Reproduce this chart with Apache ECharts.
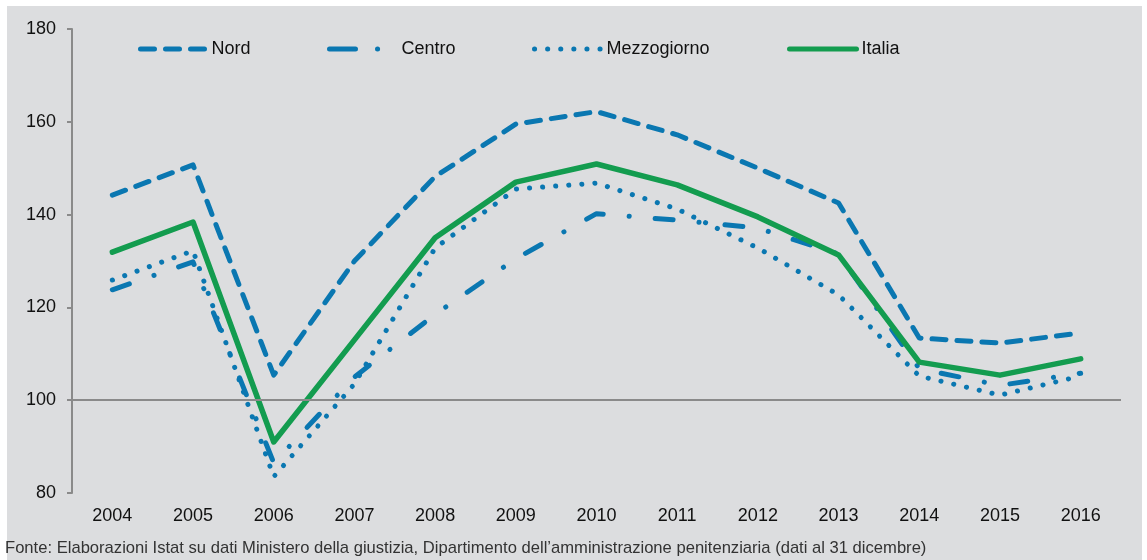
<!DOCTYPE html>
<html>
<head>
<meta charset="utf-8">
<script src="https://cdn.jsdelivr.net/npm/echarts@6/dist/echarts.min.js"></script>
<style>
  html, body { margin: 0; padding: 0; background: #fff; }
  #chart { width: 1147px; height: 560px; }
</style>
</head>
<body>
<div id="chart"></div>
<script>
// anni
const years = ['2004', '2005', '2006', '2007', '2008', '2009', '2010', '2011', '2012', '2013', '2014', '2015', '2016'];
// valori
const nord = [144.2, 150.7, 105.4, 130, 148.2, 159.5, 162.2, 157.2, 150, 142.5, 113.4, 112.3, 114.5];
const centro = [123.8, 129.8, 86.5, 105, 118.5, 130.5, 140.2, 138.8, 137.1, 131.5, 106.8, 103.2, 105.8];
const mezzogiorno = [125.9, 132.2, 83.5, 103.5, 132.8, 145.5, 146.8, 141.2, 132.8, 122.7, 105.2, 101.1, 105.2];
const italia = [131.9, 138.4, 91, 113, 135, 147, 150.9, 146.4, 139.5, 131.3, 108.2, 105.4, 108.9];
const yTicks = [80, 100, 120, 140, 160, 180];

const blue = '#0a77b1';
const green = '#139c4f';
const font = 'Liberation Sans, Arial, sans-serif';

const nordDash = [14, 11];
const centroDash = [18, 26, 0.1, 26];
const mezzDash = [0.1, 13];

const chart = echarts.init(document.getElementById('chart'));

function legendAt(name, left, width, pad, color, dash) {
  return {
    data: [name],
    left: left,
    top: 35,
    itemWidth: width,
    itemHeight: 18,
    selectedMode: false,
    itemStyle: { opacity: 0 },
    lineStyle: { color: color, width: 5, type: dash, cap: 'round' },
    textStyle: { fontFamily: font, fontSize: 18, color: '#111', padding: [0, 0, 0, pad] }
  };
}

const option = {
  animation: false,
  graphic: [{
    type: 'rect',
    z: -10,
    shape: { x: 7, y: 6, width: 1135, height: 554 },
    style: { fill: '#dcdddf' }
  }],
  title: {
    text: 'Fonte: Elaborazioni Istat su dati Ministero della giustizia, Dipartimento dell\u2019amministrazione penitenziaria (dati al 31 dicembre)',
    left: 5,
    top: 540,
    padding: 0,
    textStyle: { fontFamily: font, fontSize: 16.6, fontWeight: 'normal', color: '#333' }
  },
  legend: [
    legendAt('Nord', 133, 64, 2, blue, nordDash),
    legendAt('Centro', 322, 63, 4, blue, [26, 22, 0.1, 22]),
    legendAt('Mezzogiorno', 527, 67, 0, blue, mezzDash),
    legendAt('Italia', 782, 67, 0, green, 'solid')
  ],
  grid: { left: 72, right: 26, top: 29, bottom: 67 },
  xAxis: {
    type: 'category',
    data: years,
    boundaryGap: true,
    axisLine: { show: false },
    axisTick: { show: false },
    axisLabel: { fontFamily: font, fontSize: 18, color: '#111', margin: 14 }
  },
  yAxis: {
    type: 'value',
    min: 80,
    max: 180,
    interval: 20,
    axisLine: { show: true, lineStyle: { color: '#8a8a8a', width: 2 } },
    axisTick: { show: true, length: 5, lineStyle: { color: '#8a8a8a', width: 2 } },
    splitLine: { show: false },
    axisLabel: {
      fontFamily: font, fontSize: 18, color: '#111', margin: 16,
      formatter: v => yTicks.indexOf(v) >= 0 ? String(v) : ''
    }
  },
  series: [
    {
      name: 'Nord',
      type: 'line',
      data: nord,
      symbol: 'none',
      lineStyle: { color: blue, width: 5, type: nordDash, cap: 'round', join: 'round' },
      itemStyle: { color: blue },
      markLine: {
        silent: true,
        symbol: 'none',
        label: { show: false },
        lineStyle: { color: '#8a8a8a', width: 2, type: 'solid' },
        data: [{ yAxis: 100 }]
      }
    },
    {
      name: 'Centro',
      type: 'line',
      data: centro,
      symbol: 'none',
      lineStyle: { color: blue, width: 5, type: centroDash, cap: 'round', join: 'round' },
      itemStyle: { color: blue }
    },
    {
      name: 'Mezzogiorno',
      type: 'line',
      data: mezzogiorno,
      symbol: 'none',
      lineStyle: { color: blue, width: 5, type: mezzDash, cap: 'round', join: 'round' },
      itemStyle: { color: blue }
    },
    {
      name: 'Italia',
      type: 'line',
      data: italia,
      symbol: 'none',
      lineStyle: { color: green, width: 5.5, type: 'solid', cap: 'round', join: 'round' },
      itemStyle: { color: green }
    }
  ]
};

chart.setOption(option);
</script>
</body>
</html>
